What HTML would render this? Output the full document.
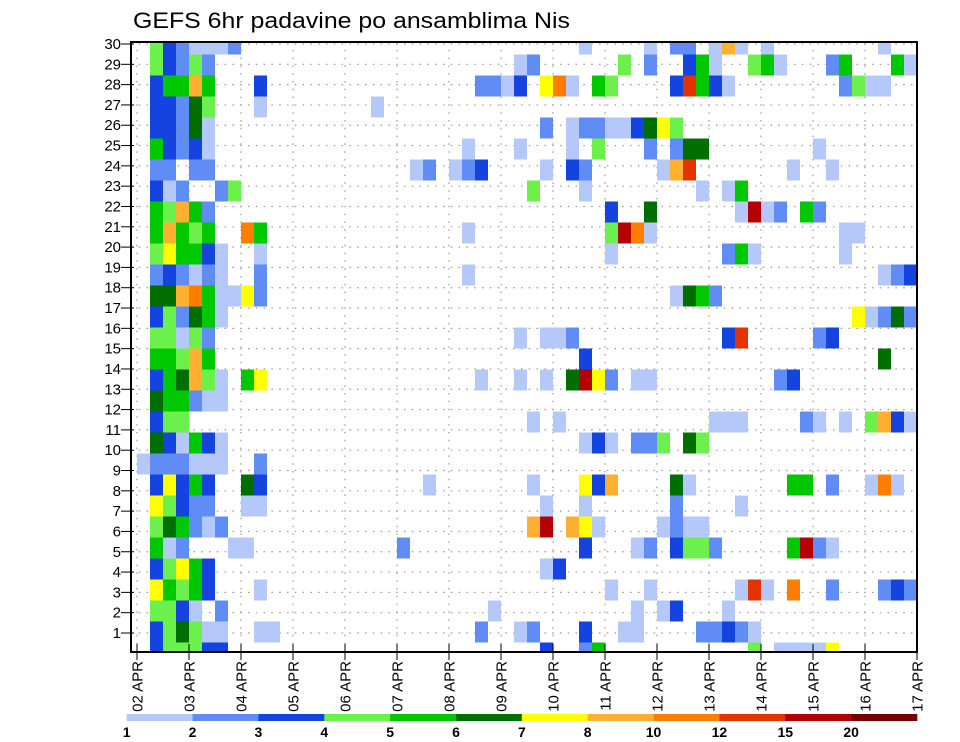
<!DOCTYPE html>
<html>
<head>
<meta charset="utf-8">
<style>
  html, body { margin: 0; padding: 0; background: #fff; }
  svg { display: block; font-family: "Liberation Sans", sans-serif; }
</style>
</head>
<body>
<svg id="chart" width="960" height="742" viewBox="0 0 960 742" xmlns="http://www.w3.org/2000/svg">
  <rect x="0" y="0" width="960" height="742" fill="#fff"/>
  <text x="133" y="28" font-size="22" textLength="437" lengthAdjust="spacingAndGlyphs" fill="#000">GEFS 6hr padavine po ansamblima Nis</text>
  <defs>
    <clipPath id="plotClip"><rect x="131" y="42" width="786" height="610"/></clipPath>
  </defs>
  <g id="grid"></g>
  <g id="cells" clip-path="url(#plotClip)"></g>
  <rect x="131" y="42" width="786" height="610" fill="none" stroke="#000" stroke-width="2"/>
  <g id="yaxis"></g>
  <g id="xaxis"></g>
  <g id="colorbar"></g>
</svg>
<script>
// ---- data ----
const members = [30,29,28,27,26,25,24,23,22,21,20,19,18,17,16,15,14,13,12,11,10,9,8,7,6,5,4,3,2,1];
const stepCount = 60; // 6-hourly steps from 02 APR to 17 APR
const dayLabels = ["02 APR","03 APR","04 APR","05 APR","06 APR","07 APR","08 APR","09 APR","10 APR","11 APR","12 APR","13 APR","14 APR","15 APR","16 APR","17 APR"];
const levelThresholds = [1,2,3,4,5,6,7,8,10,12,15,20];
const levelLabels = ["1","2","3","4","5","6","7","8","10","12","15","20"];
const levelColors = ["#b4c8fa","#5f8cf5","#1443e0","#6cf04c","#00c800","#006e00","#ffff00","#ffb030","#ff7d00","#e63200","#b40000","#780000"];
// precipitation (mm / 6h), "step:value" per member, same order as members
const precip = [
"1:4.5 2:3.5 3:2.5 4:1.5 5:1.5 6:1.5 7:2.5 34:1.5 39:1.5 41:2.5 42:2.5 44:1.5 45:9 46:1.5 48:1.5 57:1.5",
"1:4.5 2:3.5 3:2.5 4:4.5 5:2.5 29:1.5 30:2.5 37:4.5 39:2.5 42:3.5 43:5.5 44:1.5 47:4.5 48:5.5 49:1.5 53:2.5 54:5.5 58:5.5 59:1.5",
"1:3.5 2:5.5 3:5.5 4:9 5:5.5 9:3.5 26:2.5 27:2.5 28:1.5 29:3.5 31:7.5 32:11 33:1.5 35:5.5 36:4.5 41:3.5 42:13 43:5.5 44:3.5 45:1.5 54:2.5 55:4.5 56:1.5 57:1.5",
"1:3.5 2:3.5 3:2.5 4:6.5 5:4.5 9:1.5 18:1.5",
"1:3.5 2:3.5 3:2.5 4:6.5 5:1.5 31:2.5 33:1.5 34:2.5 35:2.5 36:1.5 37:1.5 38:3.5 39:6.5 40:7.5 41:4.5",
"1:5.5 2:3.5 3:2.5 4:3.5 5:1.5 25:1.5 29:1.5 33:1.5 35:4.5 39:2.5 41:2.5 42:6.5 43:6.5 52:1.5",
"1:2.5 2:2.5 4:2.5 5:2.5 21:1.5 22:2.5 24:1.5 25:2.5 26:3.5 31:1.5 33:3.5 34:2.5 40:1.5 41:9 42:13 50:1.5 53:1.5",
"1:3.5 2:1.5 3:2.5 6:2.5 7:4.5 30:4.5 34:1.5 43:1.5 45:1.5 46:5.5",
"1:5.5 2:4.5 3:9 4:5.5 5:2.5 36:3.5 39:6.5 46:1.5 47:17 48:1.5 49:2.5 51:5.5 52:2.5",
"1:5.5 2:9 3:5.5 4:4.5 5:5.5 8:11 9:5.5 25:1.5 36:4.5 37:17 38:11 39:1.5 54:1.5 55:1.5",
"1:4.5 2:7.5 3:5.5 4:5.5 5:3.5 6:1.5 9:1.5 36:1.5 45:2.5 46:5.5 47:1.5 54:1.5",
"1:2.5 2:3.5 3:2.5 4:1.5 5:2.5 6:1.5 9:2.5 25:1.5 57:1.5 58:2.5 59:3.5",
"1:6.5 2:6.5 3:9 4:11 5:5.5 6:1.5 7:1.5 8:7.5 9:2.5 41:1.5 42:6.5 43:5.5 44:2.5",
"1:3.5 2:4.5 3:2.5 4:6.5 5:5.5 6:1.5 55:7.5 56:1.5 57:2.5 58:6.5 59:2.5",
"1:4.5 2:4.5 3:1.5 4:4.5 5:2.5 29:1.5 31:1.5 32:1.5 33:2.5 45:3.5 46:13 52:2.5 53:3.5",
"1:5.5 2:5.5 3:4.5 4:9 5:5.5 34:3.5 57:6.5",
"1:3.5 2:5.5 3:6.5 4:9 5:4.5 6:1.5 8:5.5 9:7.5 26:1.5 29:1.5 31:1.5 33:6.5 34:17 35:7.5 36:2.5 38:1.5 39:1.5 49:2.5 50:3.5",
"1:6.5 2:5.5 3:5.5 4:2.5 5:1.5 6:1.5",
"1:3.5 2:4.5 3:4.5 30:1.5 32:1.5 44:1.5 45:1.5 46:1.5 51:2.5 52:1.5 54:1.5 56:4.5 57:9 58:3.5 59:1.5",
"1:6.5 2:3.5 3:1.5 4:5.5 5:3.5 6:1.5 34:1.5 35:3.5 36:1.5 38:2.5 39:2.5 40:4.5 42:6.5 43:4.5",
"0:1.5 1:2.5 2:2.5 3:2.5 4:1.5 5:1.5 6:1.5 9:2.5",
"1:3.5 2:7.5 3:3.5 4:5.5 5:3.5 8:6.5 9:3.5 22:1.5 30:1.5 34:7.5 35:3.5 36:9 41:6.5 42:1.5 50:5.5 51:5.5 53:2.5 56:1.5 57:11 58:1.5",
"1:7.5 2:4.5 3:3.5 4:2.5 5:2.5 8:1.5 9:1.5 31:1.5 34:1.5 41:2.5 46:1.5",
"1:4.5 2:6.5 3:5.5 4:2.5 5:1.5 6:2.5 30:9 31:17 33:9 34:7.5 35:1.5 40:1.5 41:2.5 42:1.5 43:1.5",
"1:5.5 2:1.5 3:2.5 7:1.5 8:1.5 20:2.5 34:3.5 38:1.5 39:2.5 41:3.5 42:4.5 43:4.5 44:2.5 50:5.5 51:17 52:2.5 53:1.5",
"1:3.5 2:4.5 3:7.5 4:5.5 5:3.5 31:1.5 32:3.5",
"1:7.5 2:5.5 3:4.5 4:5.5 5:3.5 9:1.5 36:1.5 39:1.5 46:1.5 47:13 48:1.5 50:11 53:2.5 57:2.5 58:3.5 59:2.5",
"1:4.5 2:4.5 3:3.5 4:1.5 6:2.5 27:1.5 38:1.5 40:1.5 41:3.5 45:1.5",
"1:3.5 2:4.5 3:6.5 4:4.5 5:1.5 6:1.5 9:1.5 10:1.5 26:2.5 29:1.5 30:2.5 34:3.5 37:1.5 38:1.5 43:2.5 44:2.5 45:3.5 46:2.5 47:1.5",
"1:3.5 2:4.5 3:4.5 4:4.5 5:3.5 6:3.5 31:3.5 34:2.5 35:5.5 47:4.5 49:1.5 50:1.5 51:1.5 52:1.5 53:7.5"
];

// ---- scales ----
const NS = "http://www.w3.org/2000/svg";
const plotL = 131, plotR = 917, plotT = 42, plotB = 652;
const x0 = 137, stepW = 13;
function xStep(s) { return x0 + s * stepW; }
function xDay(d) { return x0 + d * stepW * 4; }
function yLabel(m) { return 44 + (30 - m) * 20.31; }
function yCell(m) { return 44 + (30 - m) * 21; }
const cellH = 21;
function colorFor(v) {
  let idx = -1;
  for (let i = 0; i < levelThresholds.length; i++) if (v >= levelThresholds[i]) idx = i;
  return idx < 0 ? null : levelColors[idx];
}
function mk(tag, attrs, parent) {
  const el = document.createElementNS(NS, tag);
  for (const k in attrs) el.setAttribute(k, attrs[k]);
  parent.appendChild(el);
  return el;
}

// ---- grid ----
const grid = document.getElementById("grid");
members.forEach(m => {
  const l = mk("line", {x1: plotL, x2: plotR, y1: yLabel(m), y2: yLabel(m), stroke: "#999", "stroke-width": 1.2, "stroke-dasharray": "1.5 6.3"}, grid);
  
  
});
dayLabels.forEach((d, i) => {
  const l = mk("line", {x1: xDay(i), x2: xDay(i), y1: plotT, y2: plotB, stroke: "#999", "stroke-width": 1.2, "stroke-dasharray": "1.5 6.3"}, grid);
  
  
});

// ---- cells ----
const cellsG = document.getElementById("cells");
members.forEach((m, mi) => {
  precip[mi].trim().split(/\s+/).forEach(tok => {
    const parts = tok.split(":");
    const s = +parts[0], v = +parts[1];
    const c = colorFor(v);
    if (!c || s < 0 || s >= stepCount) return;
    const r = mk("rect", {x: xStep(s), y: yCell(m) - cellH / 2, width: stepW, height: cellH, fill: c}, cellsG);
    
    
  });
});

// ---- y axis ----
const yax = document.getElementById("yaxis");
members.forEach(m => {
  const t = mk("line", {x1: 121, x2: 134, y1: yLabel(m), y2: yLabel(m), stroke: "#000", "stroke-width": 1}, yax);
  
  
  const lbl = mk("text", {x: 121, y: yLabel(m) + 5, "text-anchor": "end", "font-size": 15, fill: "#000"}, yax);
  lbl.textContent = String(m);
  
  
});

// ---- x axis ----
const xax = document.getElementById("xaxis");
dayLabels.forEach((d, i) => {
  const x = xDay(i);
  const t = mk("line", {x1: x, x2: x, y1: 644, y2: 660, stroke: "#000", "stroke-width": 1}, xax);
  
  
  const lbl = mk("text", {x: 0, y: 0, "text-anchor": "end", "font-size": 15, fill: "#000", transform: "translate(" + (x + 5.5) + ",661) rotate(-90)"}, xax);
  lbl.textContent = d;
  
  
});

// ---- colorbar ----
const cb = document.getElementById("colorbar");
const cbL = 126.7, cbW = (917 - 126.7) / levelColors.length;
levelColors.forEach((c, i) => {
  const r = mk("rect", {x: cbL + i * cbW, y: 714, width: cbW + 0.3, height: 7, fill: c}, cb);
  
  
});
levelLabels.forEach((l, i) => {
  const t = mk("text", {x: cbL + i * cbW, y: 737, "text-anchor": "middle", "font-size": 14, "font-weight": "bold", fill: "#000"}, cb);
  t.textContent = l;
  
  
});
</script>
</body>
</html>
